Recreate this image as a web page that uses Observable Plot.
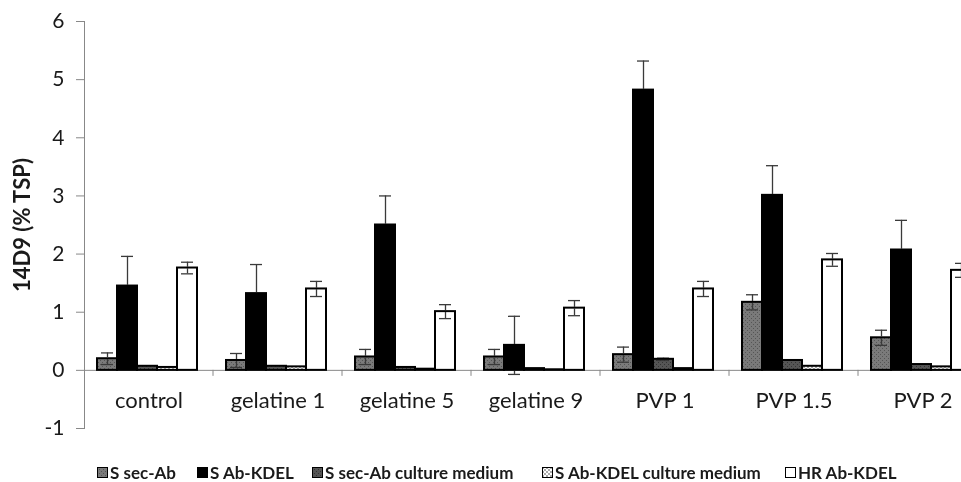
<!DOCTYPE html>
<html><head><meta charset="utf-8">
<script src="https://cdn.jsdelivr.net/npm/d3@7"></script>
<script src="https://cdn.jsdelivr.net/npm/@observablehq/plot@0.6"></script>
<style>
html,body{margin:0;padding:0;background:#fff;overflow:hidden;}
#wrap{position:relative;width:961px;height:482px;font-family:Lato, sans-serif;overflow:hidden;}
#legend{position:absolute;left:0;top:462px;width:961px;height:20px;font-weight:700;font-size:17px;line-height:20px;color:#1a1a1a;}
.item{position:absolute;top:1px;height:19px;display:flex;align-items:center;gap:2px;white-space:nowrap}
.item svg{display:block}
</style></head><body><div id="wrap"></div>
<script>
const categories = ["control", "gelatine 1", "gelatine 5", "gelatine 9", "PVP 1", "PVP 1.5", "PVP 2"];
const series = ["S sec-Ab", "S Ab-KDEL", "S sec-Ab culture medium", "S Ab-KDEL culture medium", "HR Ab-KDEL"];
const yTicks = [-1, 0, 1, 2, 3, 4, 5, 6];

const secAb        = [0.20, 0.17, 0.23, 0.23, 0.27, 1.17, 0.56];
const secAbErr     = [0.10, 0.12, 0.13, 0.13, 0.13, 0.13, 0.13];
const abKdel       = [1.45, 1.32, 2.50, 0.43, 4.82, 3.01, 2.07];
const abKdelErr    = [0.51, 0.50, 0.50, 0.50, 0.50, 0.51, 0.51];
const secMedium    = [0.07, 0.07, 0.05, 0.03, 0.19, 0.17, 0.10];
const secMediumErr = [0, 0, 0, 0, 0.02, 0, 0];
const kdelMedium   = [0.05, 0.06, 0.02, 0.01, 0.03, 0.07, 0.06];
const kdelMediumErr= [0, 0, 0, 0, 0, 0, 0];
const hrKdel       = [1.76, 1.40, 1.01, 1.07, 1.40, 1.90, 1.72];
const hrKdelErr    = [0.10, 0.13, 0.12, 0.13, 0.13, 0.11, 0.12];

const fills = ["url(#p-sec)", "#000000", "url(#p-secmed)", "url(#p-kdelmed)", "#ffffff"];
const legendLeft = [97, 197, 312, 542, 785];

const valueLists = [secAb, abKdel, secMedium, kdelMedium, hrKdel];
const errLists = [secAbErr, abKdelErr, secMediumErr, kdelMediumErr, hrKdelErr];
const rows = [];
categories.forEach((c, i) => series.forEach((s, j) => {
  rows.push({cat: c, series: s, value: valueLists[j][i], err: errLists[j][i]});
}));
const errRows = rows.filter(d => d.err > 0);
const errStyle = {stroke: "#3a3a3a", strokeWidth: 1.3, mixBlendMode: "darken"};

const plot = Plot.plot({
  width: 961, height: 450,
  marginLeft: 84, marginRight: -26, marginTop: 21, marginBottom: 22,
  style: {fontFamily: "Lato, sans-serif", fontSize: "21px", color: "#1a1a1a", background: "white"},
  fx: {domain: categories, padding: 0, axis: null},
  x: {domain: series, paddingInner: 0, paddingOuter: 0.71, align: 0.46, axis: null},
  y: {domain: [-1, 6], axis: null},
  color: {domain: series, range: fills},
  marks: [
    Plot.axisY({ticks: yTicks, tickSize: 8, tickPadding: 12, tickFormat: d => String(d),
      stroke: "#888", fill: "#1a1a1a", fontSize: 21,
      label: "14D9 (% TSP)", labelAnchor: "center", labelArrow: "none", labelOffset: 70}),
    Plot.frame({anchor: "left", facetAnchor: "left", stroke: "#888"}),
    Plot.ruleY([0], {stroke: "#888"}),
    Plot.barY(rows, {fx: "cat", x: "series", y: "value", fill: "series", stroke: "#000", strokeWidth: 2}),
    Plot.ruleX(errRows, {fx: "cat", x: "series", y1: d => d.value - d.err, y2: d => d.value + d.err, ...errStyle}),
    Plot.tickY(errRows, {fx: "cat", x: "series", y: d => d.value + d.err, insetLeft: 4, insetRight: 4, ...errStyle}),
    Plot.tickY(errRows, {fx: "cat", x: "series", y: d => d.value - d.err, insetLeft: 4, insetRight: 4, ...errStyle}),
    Plot.text(categories, {fx: d => d, y: () => 0, text: d => d, dy: 31, fontSize: 22, fill: "#1a1a1a"})
  ]
});

const svg = d3.select(plot);
svg.insert("defs", ":first-child").html(`
  <pattern id="p-sec" width="4" height="4" patternUnits="userSpaceOnUse">
    <rect width="4" height="4" fill="#7a7a7a"/><rect width="1" height="1" fill="#555"/><rect x="2" y="2" width="1" height="1" fill="#555"/>
  </pattern>
  <pattern id="p-secmed" width="4" height="4" patternUnits="userSpaceOnUse">
    <rect width="4" height="4" fill="#555"/><rect width="1" height="1" fill="#333"/><rect x="2" y="2" width="1" height="1" fill="#333"/>
  </pattern>
  <pattern id="p-kdelmed" width="4" height="4" patternUnits="userSpaceOnUse">
    <rect width="4" height="4" fill="#fff"/><rect width="2" height="2" fill="#aaa"/><rect x="2" y="2" width="2" height="2" fill="#aaa"/>
  </pattern>`);
svg.selectAll('g[aria-label="y-axis label"] text').attr("font-weight", "bold").attr("font-size", 22);

// category boundary ticks on the zero line, via Plot's fx and y scales
const fxS = plot.scale("fx"), yS = plot.scale("y");
const y0 = yS.apply(0);
const tg = svg.append("g").attr("stroke", "#888");
categories.forEach(c => {
  const xe = fxS.apply(c) + fxS.bandwidth;
  tg.append("line").attr("x1", xe).attr("x2", xe).attr("y1", y0).attr("y2", y0 + 6);
});

const wrap = document.getElementById("wrap");
wrap.appendChild(plot);
const legend = document.createElement("div");
legend.id = "legend";
series.forEach((s, j) => {
  const item = document.createElement("div");
  item.className = "item";
  item.style.left = legendLeft[j] + "px";
  item.innerHTML = `<svg width="11" height="11"><rect x="0.5" y="0.5" width="10" height="10" fill="${fills[j]}" stroke="#000"/></svg><span>${s}</span>`;
  legend.appendChild(item);
});
wrap.appendChild(legend);
</script></body></html>
